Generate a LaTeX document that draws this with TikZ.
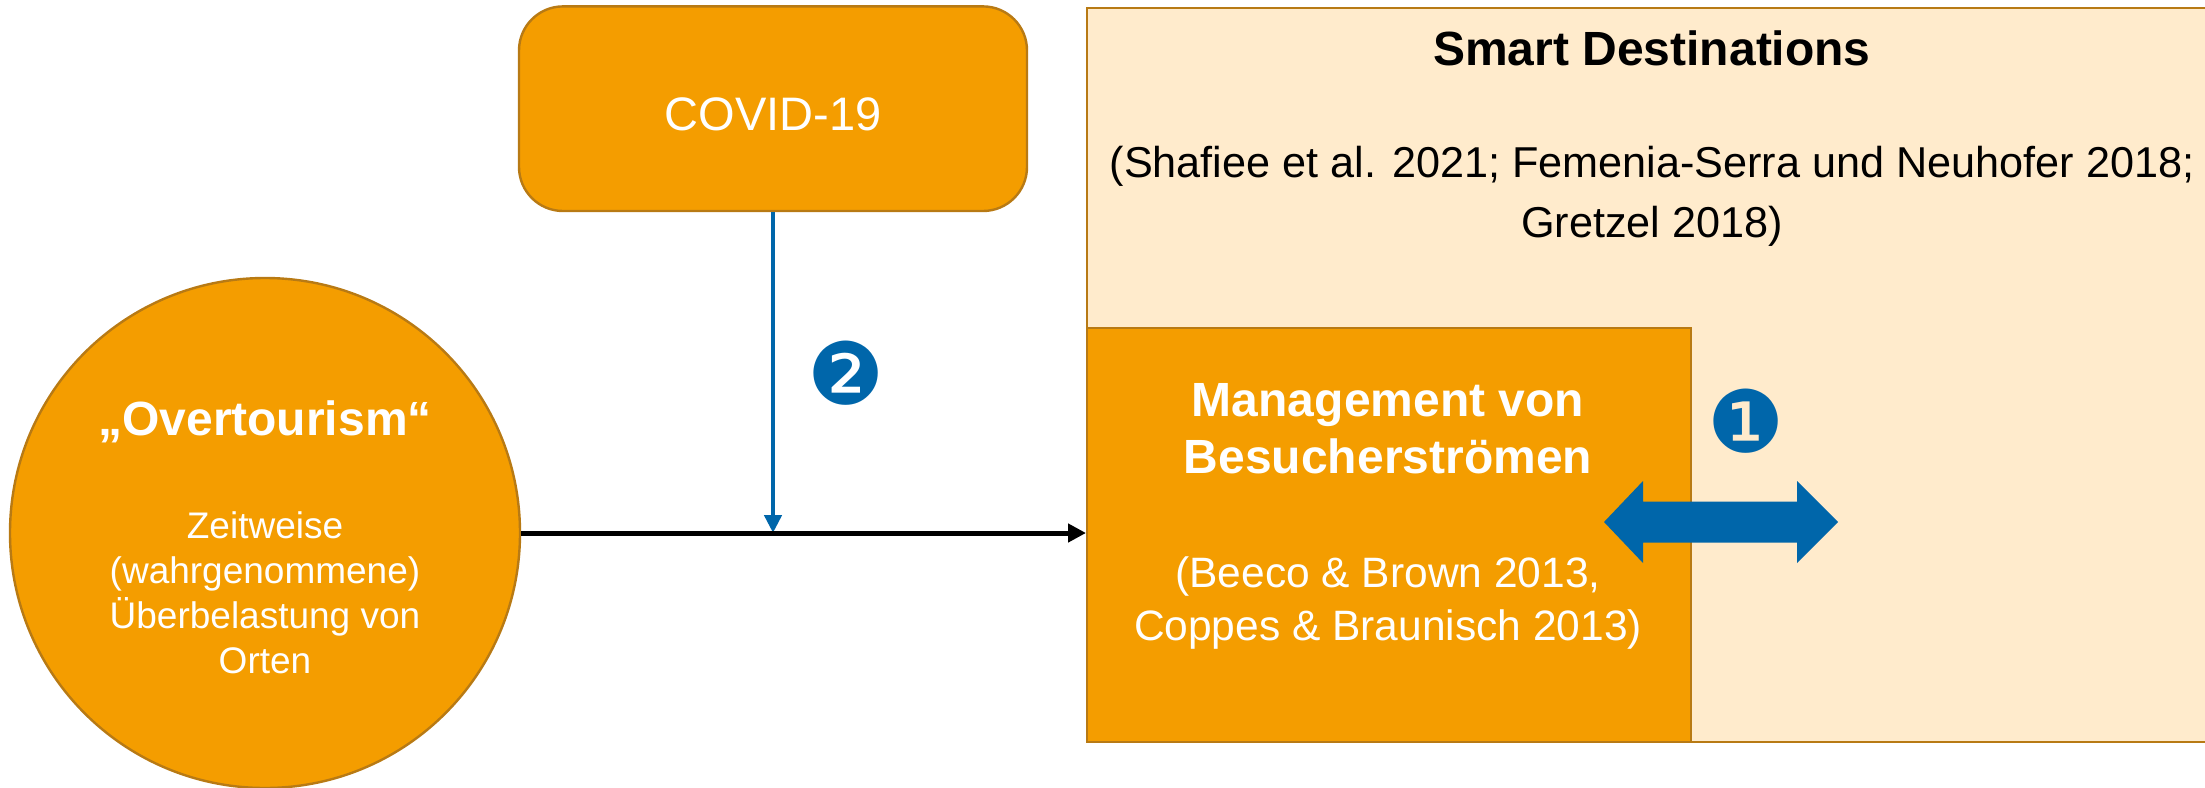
\documentclass[tikz,border=0pt]{standalone}
\usepackage{fontspec}
\setmainfont{Liberation Sans}
\newfontfamily\zeichen{DejaVu Sans}
\usetikzlibrary{arrows.meta}
\definecolor{orange1}{HTML}{F49D00}
\definecolor{rand}{HTML}{B87A14}
\definecolor{hell}{HTML}{FFEBCC}
\definecolor{blau}{HTML}{0066AA}

\begin{document}
\begin{tikzpicture}[x=0.5pt, y=-0.5pt,
	kasten/.style={draw=rand, line width=1.2pt, fill=orange1, text=white, inner sep=0pt},
	titel/.style={text=white, font=\fontsize{24}{28.5}\selectfont\bfseries, align=center},
	klein/.style={text=white, font=\fontsize{18.5}{22.5}\selectfont, align=center},
	zitat/.style={font=\fontsize{21.6}{30}\selectfont, align=center},
	nummer/.style={text=blau, font=\zeichen\fontsize{43}{43}\selectfont, inner sep=0pt}]
	
	\useasboundingbox (0,0) rectangle (2205,787);
	
	\node[kasten, fill=hell, anchor=north west, minimum width=580pt, minimum height=367.25pt] (smart) at (1086,6.5) {}; %Smart Destinations Rahmen
	\node[kasten, anchor=north west, minimum width=302pt, minimum height=207.25pt] (mgmt) at (1086,326.5) {}; %Management Kasten
	\node[kasten, rounded corners=22pt, minimum width=254pt, minimum height=102.3pt, text height=21.8pt, text depth=0pt, font=\fontsize{23.5}{28}\selectfont] (covid) at (773,108.7) {COVID-19};
	\node[kasten, circle, minimum size=255pt] (over) at (265,533) {}; %Overtourism Kreis
	
	\coordinate (treff) at (covid |- over);
	\draw[blau, line width=2.3pt, -{Triangle[length=9pt, width=8.5pt]}] (covid) -- (treff);
	\draw[line width=2.5pt, -{Triangle[length=9pt, width=9pt]}] (over) -- (over -| mgmt.west);
	
	\fill[blau] %Doppelpfeil
	(1604,522) -- (1643,481) -- (1643,501.5) -- (1797,501.5) -- (1797,481) -- (1838,522)
	-- (1797,563) -- (1797,542.5) -- (1643,542.5) -- (1643,563) -- cycle;
	
	\node[titel] (overtitel) at (265,422) {„Overtourism“}; %Beschriftungen
	\node[klein] (overtext) at (265,592.5) {Zeitweise\\(wahrgenommene)\\Überbelastung von\\Orten};
	\node[zitat, font=\fontsize{24}{28}\selectfont\bfseries] (smarttitel) at (1652,48) {Smart Destinations};
	\node[zitat] (smartquelle) at (1652,196) {(Shafiee et al. 2021; Femenia-Serra und Neuhofer 2018;\\Gretzel 2018)};
	\node[titel] (mgmttitel) at (1388,428.5) {Management von\\Besucherströmen};
	\node[zitat, text=white, font=\fontsize{21.25}{26.5}\selectfont] (mgmtquelle) at (1388,603) {(Beeco \& Brown 2013,\\Coppes \& Braunisch 2013)};
	
	\node[nummer] (eins) at (1746,421) {❶};
	\node[nummer] (zwei) at (846,373) {❷};
	
\end{tikzpicture}
\end{document}
